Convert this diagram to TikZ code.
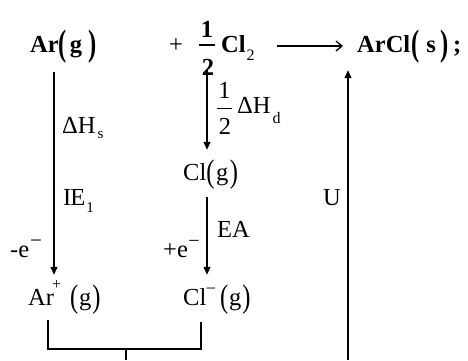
\documentclass[tikz,border=0pt]{standalone}
\usepackage{fontspec}
\usepackage{graphicx}
\setmainfont{Liberation Serif}
\usetikzlibrary{arrows.meta}
\newcommand{\lpb}{\raisebox{-3.5pt}{\scalebox{1}[1.5]{(}}}
\newcommand{\rpb}{\raisebox{-3.5pt}{\scalebox{1}[1.5]{)}}}
\newcommand{\lpn}{\raisebox{-2.3pt}{\scalebox{1}[1.33]{(}}}
\newcommand{\rpn}{\raisebox{-2.3pt}{\scalebox{1}[1.33]{)}}}
\newcommand{\lowr}[3]{\raisebox{-#1}{\normalfont\fontsize{#2}{#2}\selectfont #3}}
\newcommand{\highr}[3]{\raisebox{#1}{\normalfont\fontsize{#2}{#2}\selectfont #3}}
\begin{document}
\begin{tikzpicture}[x=1pt,y=-1pt,
  every node/.style={inner sep=0pt, font=\fontsize{24.5}{28}\selectfont},
  tx/.style={anchor=base west},
  ln/.style={line width=1.3pt},
  arr/.style={line width=1.3pt,-{Triangle[length=8pt,width=7pt]}},
  rxn/.style={line width=1.3pt,-{Straight Barb[length=6pt,width=10pt]}}]
\useasboundingbox (0,0) rectangle (468,360);
\fill[white] (0,0) rectangle (468,360);
% top row
\node[tx, text height=20pt, text depth=20pt] (arg) at (30,52) {\bfseries Ar\lpb\kern3pt g\kern6pt\rpb};
\node[tx] (plus) at (169,52) {+};
\node[anchor=base] (hn) at (207,37) {\bfseries 1};
\node[anchor=base] (hd) at (208,75) {\bfseries 2};
\draw[ln] (199,45) -- (215,45);
\node[tx, text width=41pt, align=left, text height=20pt, text depth=8pt] (cl2) at (221,52) {\bfseries Cl\kern1pt\lowr{8pt}{16}{2}};
\node[tx, text height=20pt, text depth=8pt] (arcl) at (357,52) {\bfseries ArCl\kern1pt\lpb\kern7pt s\kern5pt\rpb\kern4pt;};
\draw[rxn, shorten <=15pt, shorten >=14pt] (cl2.east) -- (arcl.west);
% middle column
\node[tx, text height=30pt, text depth=17pt] (clg) at (183,180) {Cl\lpn\kern1.5pt g\kern1.5pt\rpn};
\node[tx, text height=30pt, text depth=17pt] (clm) at (183,305) {Cl\kern-0.5pt\highr{11pt}{18}{−}\kern4pt\lpn\kern1pt g\kern1pt\rpn};
% left column
\node[tx, text height=30pt, text depth=15pt] (arp) at (28,305) {Ar\kern-2pt\highr{16pt}{16}{+}\kern9pt\lpn\kern1pt g\kern1pt\rpn};
% labels
\node[tx] (lhs) at (62,133) {ΔH\kern2pt\lowr{5pt}{15}{s}};
\node[tx] (lie) at (63,205) {I\kern-1pt E\kern1pt\lowr{7pt}{15}{1}};
\node[tx] (lme) at (10,257) {-e\kern1pt\highr{10pt}{21}{−}};
\node[tx] (lpe) at (163,257) {+e\kern0.5pt\highr{10pt}{20}{−}};
\node[tx] (lea) at (217,237) {EA};
\node[tx] (lu) at (323,205) {U};
\node[anchor=base] (ln1) at (224.5,98) {1};
\node[anchor=base] (ld2) at (225,134) {2};
\draw[line width=1pt] (217,108) -- (232,108);
\node[tx] (lhd) at (237,113) {ΔH\kern2pt\lowr{10pt}{16}{d}};
% connectors
\coordinate (lx) at (54,0);
\coordinate (mx) at (207,0);
\coordinate (bl) at (48,0);
\coordinate (br) at (201,0);
\coordinate (bm) at (126,349);
\coordinate (bend) at (126,360);
\coordinate (rx) at (348,360);
\draw[arr] (arg.south -| lx) -- (arp.north -| lx);
\draw[arr, shorten <=-5pt] (hd.base -| mx) -- (clg.north -| mx);
\draw[arr] (clg.south -| mx) -- (clm.north -| mx);
\draw[ln] (arp.south -| bl) |- (bm) -| (clm.south -| br);
\draw[ln] (bm) -- (bend);
\draw[arr, shorten >=10pt] (rx) -- (rx |- arcl.south);
\end{tikzpicture}
\end{document}
